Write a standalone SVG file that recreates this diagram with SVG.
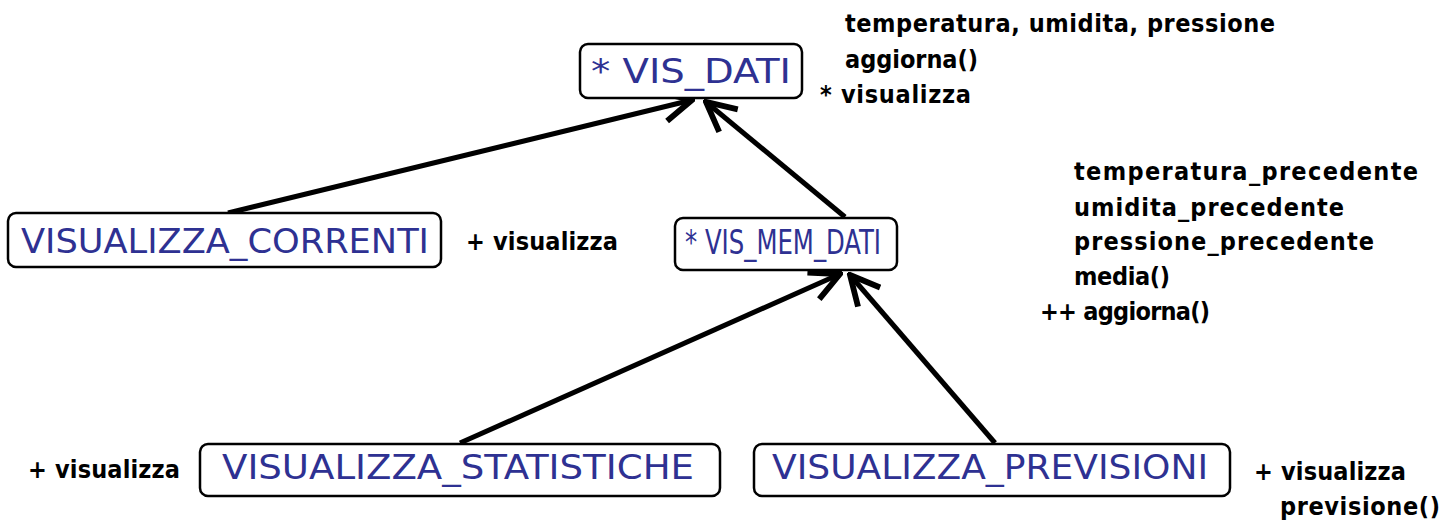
<svg xmlns="http://www.w3.org/2000/svg" width="1453" height="522" viewBox="0 0 1453 522">
<style>
.box{fill:#fff;stroke:#000;stroke-width:2.5}
.cls{font-family:"DejaVu Sans Condensed","DejaVu Sans",sans-serif;font-stretch:condensed;font-size:33px;fill:#2e3192;text-anchor:middle}
.note{font-family:"DejaVu Sans Condensed","DejaVu Sans",sans-serif;font-stretch:condensed;font-weight:bold;font-size:25px;fill:#000}
.edge{stroke:#000;stroke-width:5;fill:none;marker-end:url(#arr)}
</style>
<defs>
<marker id="arr" viewBox="0 0 12 12" refX="11" refY="6" markerWidth="7" markerHeight="7" orient="auto" markerUnits="strokeWidth">
<path d="M1,1 L11,6 L1,11" fill="none" stroke="#000" stroke-width="2"/>
</marker>
</defs>
<g id="connectors">
<line class="edge" x1="228" y1="213" x2="692" y2="100"/>
<line class="edge" x1="845" y1="217" x2="706" y2="102"/>
<line class="edge" x1="460" y1="443" x2="840" y2="274"/>
<line class="edge" x1="995" y1="443" x2="850" y2="275"/>
</g>
<g id="vis_dati">
<rect class="box" x="580" y="44" width="222" height="54" rx="8"/>
<text class="cls" x="691" y="83" textLength="200" lengthAdjust="spacingAndGlyphs">* VIS_DATI</text>
</g>
<g id="vis_dati_notes">
<text class="note" x="845" y="32" textLength="430">temperatura, umidita, pressione</text>
<text class="note" x="845" y="68" textLength="133">aggiorna()</text>
<text class="note" x="820" y="103" textLength="151">* visualizza</text>
</g>
<g id="visualizza_correnti">
<rect class="box" x="8" y="213" width="433" height="54" rx="8"/>
<text class="cls" x="225" y="253" textLength="408" lengthAdjust="spacingAndGlyphs">VISUALIZZA_CORRENTI</text>
</g>
<text class="note" x="466" y="250" textLength="152">+ visualizza</text>
<g id="vis_mem_dati">
<rect class="box" x="675" y="218" width="222" height="52" rx="8"/>
<text class="cls" x="783" y="254" textLength="196" lengthAdjust="spacingAndGlyphs">* VIS_MEM_DATI</text>
</g>
<g id="vis_mem_dati_notes">
<text class="note" x="1074" y="180" textLength="344">temperatura_precedente</text>
<text class="note" x="1074" y="216" textLength="270">umidita_precedente</text>
<text class="note" x="1074" y="250" textLength="300">pressione_precedente</text>
<text class="note" x="1074" y="285" textLength="96">media()</text>
<text class="note" x="1040" y="320" textLength="170">++ aggiorna()</text>
</g>
<g id="visualizza_statistiche">
<rect class="box" x="200" y="444" width="520" height="52" rx="8"/>
<text class="cls" x="458" y="479" textLength="472" lengthAdjust="spacingAndGlyphs">VISUALIZZA_STATISTICHE</text>
</g>
<text class="note" x="28" y="478" textLength="152">+ visualizza</text>
<g id="visualizza_previsioni">
<rect class="box" x="754" y="444" width="476" height="52" rx="8"/>
<text class="cls" x="990" y="479" textLength="436" lengthAdjust="spacingAndGlyphs">VISUALIZZA_PREVISIONI</text>
</g>
<g id="previsioni_notes">
<text class="note" x="1254" y="480" textLength="152">+ visualizza</text>
<text class="note" x="1280" y="515" textLength="160">previsione()</text>
</g>
</svg>
